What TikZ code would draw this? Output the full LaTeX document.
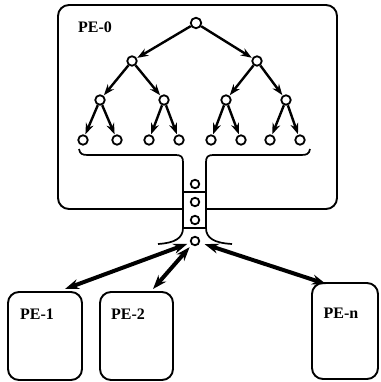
\documentclass[tikz,border=0pt]{standalone}
\usepackage{fontspec}
\setmainfont{Liberation Serif}
\usetikzlibrary{arrows.meta}
\tikzset{
  x=1pt, y=-1pt,
  pebox/.style={draw, line width=1.9pt, rounded corners=11pt},
  lbl/.style={font=\fontsize{16}{16}\selectfont\bfseries, inner sep=0pt},
  vtx/.style={circle, draw, line width=1.8pt, inner sep=0pt, minimum size=9.5pt, fill=white},
  tarrow/.style={line width=2.4pt, -{Stealth[length=11pt,width=8pt]}, shorten >=0.5pt},
  barrow/.style={line width=4pt, {Stealth[length=14pt,width=10pt]}-{Stealth[length=14pt,width=10pt]}},
  chan/.style={line width=1.7pt}
}
\begin{document}
\begin{tikzpicture}
\useasboundingbox (0,0) rectangle (380,382);
% PE-0 box with gap for channel
\draw[line width=1.9pt, rounded corners=11pt] (183,209) -- (58,209) -- (58,5) -- (337,5) -- (337,209) -- (206,209);
\node[lbl] (pe0lbl) at (95,27) {PE-0};
% tree
\node[vtx, minimum size=10.5pt] (r) at (196,23) {};
\node[vtx] (a) at (132,61) {};
\node[vtx] (b) at (257,61) {};
\node[vtx] (a1) at (100,100) {};
\node[vtx] (a2) at (164,100) {};
\node[vtx] (b1) at (226,100) {};
\node[vtx] (b2) at (286,100) {};
\foreach \n/\x in {l1/83,l2/117,l3/149,l4/179,l5/211,l6/241,l7/270,l8/300}
  \node[vtx] (\n) at (\x,140) {};
\draw[tarrow] (r) -- (a);
\draw[tarrow] (r) -- (b);
\draw[tarrow] (a) -- (a1);
\draw[tarrow] (a) -- (a2);
\draw[tarrow] (b) -- (b1);
\draw[tarrow] (b) -- (b2);
\draw[tarrow] (a1) -- (l1);
\draw[tarrow] (a1) -- (l2);
\draw[tarrow] (a2) -- (l3);
\draw[tarrow] (a2) -- (l4);
\draw[tarrow] (b1) -- (l5);
\draw[tarrow] (b1) -- (l6);
\draw[tarrow] (b2) -- (l7);
\draw[tarrow] (b2) -- (l8);
% channel
\draw[chan] (79,149) .. controls (80,154) and (82,155) .. (88,155) -- (176,155)
  .. controls (181,155) and (183,157) .. (183,162) -- (183,228)
  .. controls (183,238) and (175,243) .. (158,244);
\draw[chan] (310,149) .. controls (309,154) and (307,155) .. (301,155) -- (213,155)
  .. controls (208,155) and (206,157) .. (206,162) -- (206,228)
  .. controls (206,238) and (214,243) .. (232,244);
\draw[chan] (183,192) -- (206,192);
\draw[chan] (183,228) -- (206,228);
\node[vtx, minimum size=8.5pt] (c1) at (195,184) {};
\node[vtx, minimum size=8.5pt] (c2) at (195,202) {};
\node[vtx, minimum size=8.5pt] (c3) at (195,220) {};
\node[vtx, minimum size=8.5pt] (c4) at (195,241) {};
% PE boxes
\node[pebox, minimum width=74pt, minimum height=88pt] (pe1) at (45,336) {};
\node[pebox, minimum width=73pt, minimum height=88pt] (pe2) at (136.5,336) {};
\node[pebox, minimum width=66pt, minimum height=96pt] (pen) at (345,331) {};
\node[lbl] at (37,314) {PE-1};
\node[lbl] at (128,314) {PE-2};
\node[lbl] at (341,313) {PE-n};
\coordinate (t1) at (65,289);
\coordinate (t2) at (153,289);
\coordinate (tn) at (326,284);
\draw[barrow, shorten <=3pt] (c4) -- (t1);
\draw[barrow, shorten <=3pt] (c4) -- (t2);
\draw[barrow, shorten <=5pt] (c4) -- (tn);
\end{tikzpicture}
\end{document}
